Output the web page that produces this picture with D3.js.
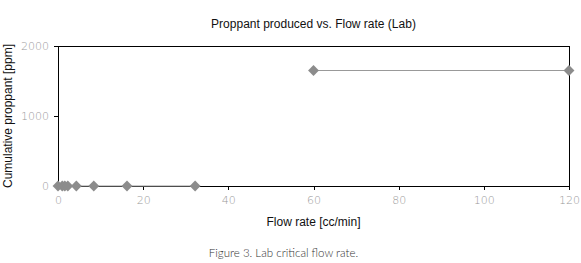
<!DOCTYPE html>
<html><head><meta charset="utf-8">
<script src="https://cdn.jsdelivr.net/npm/d3@7"></script>
<style>body{margin:0;background:#fff;}svg{display:block;}</style>
</head><body>
<svg id="c" width="581" height="263"></svg>
<script>
const lowFlow = [0, 1, 1.6, 2.3, 4.3, 8.4, 16.2, 32.2];
const lowProppant = [0, 0, 0, 0, 0, 0, 0, 0];
const highFlow = [60, 120];
const highProppant = [1650, 1650];
const xTicks = [0, 20, 40, 60, 80, 100, 120];
const yTicks = [0, 1000, 2000];
const title = "Proppant produced vs. Flow rate (Lab)";
const xLabel = "Flow rate [cc/min]";
const yLabel = "Cumulative proppant [ppm]";
const caption = "Figure 3. Lab critical flow rate.";

const svg = d3.select("#c");
const L = 58, R = 569, T = 46, B = 186;
const x = d3.scaleLinear().domain([0, 120]).range([L, R]);
const y = d3.scaleLinear().domain([0, 2000]).range([B, T]);

// frame
svg.append("rect").attr("x", L).attr("y", T).attr("width", R - L).attr("height", B - T)
  .attr("fill", "none").attr("stroke", "#000").attr("stroke-width", 1).attr("shape-rendering", "crispEdges");

const xa = svg.append("g").attr("transform", `translate(0,${B})`)
  .call(d3.axisBottom(x).tickValues(xTicks).tickSize(4).tickPadding(6).tickFormat(d3.format("d")));
const ya = svg.append("g").attr("transform", `translate(${L},0)`)
  .call(d3.axisLeft(y).tickValues(yTicks).tickSize(4).tickPadding(5).tickFormat(d3.format("d")));
[xa, ya].forEach(a => {
  a.select(".domain").remove();
  a.selectAll("line").attr("stroke", "#000").attr("shape-rendering", "crispEdges");
  a.selectAll("text").attr("fill", "#999").style("font-family", "'DejaVu Sans', sans-serif")
    .style("font-size", "11px").style("font-weight", "200");
});

const line = d3.line().x(d => x(d[0])).y(d => y(d[1]));
const series = [d3.zip(lowFlow, lowProppant), d3.zip(highFlow, highProppant)];
series.forEach(s => {
  svg.append("path").datum(s).attr("d", line).attr("fill", "none")
    .attr("stroke", "#999").attr("stroke-width", 1.2);
});
const diamond = d3.symbol().type(d3.symbolDiamond2).size(75);
series.forEach(s => {
  svg.selectAll(null).data(s).join("path")
    .attr("transform", d => `translate(${x(d[0])},${y(d[1])})`)
    .attr("d", diamond).attr("fill", "#8c8c8c");
});

const font = "'Liberation Sans', Arial, sans-serif";
svg.append("text").attr("x", 313.5).attr("y", 28).attr("text-anchor", "middle")
  .style("font-family", font).style("font-size", "12px").attr("fill", "#111").text(title);
svg.append("text").attr("x", 313.5).attr("y", 226).attr("text-anchor", "middle")
  .style("font-family", font).style("font-size", "12px").attr("fill", "#111").text(xLabel);
svg.append("text").attr("transform", "translate(12,116) rotate(-90)").attr("text-anchor", "middle")
  .style("font-family", font).style("font-size", "12px").attr("fill", "#111").text(yLabel);
svg.append("text").attr("x", 283.5).attr("y", 257).attr("text-anchor", "middle")
  .style("font-family", "Lato, sans-serif").style("font-size", "11.5px").style("font-weight", "300")
  .attr("fill", "#333").text(caption);
</script>
</body></html>
